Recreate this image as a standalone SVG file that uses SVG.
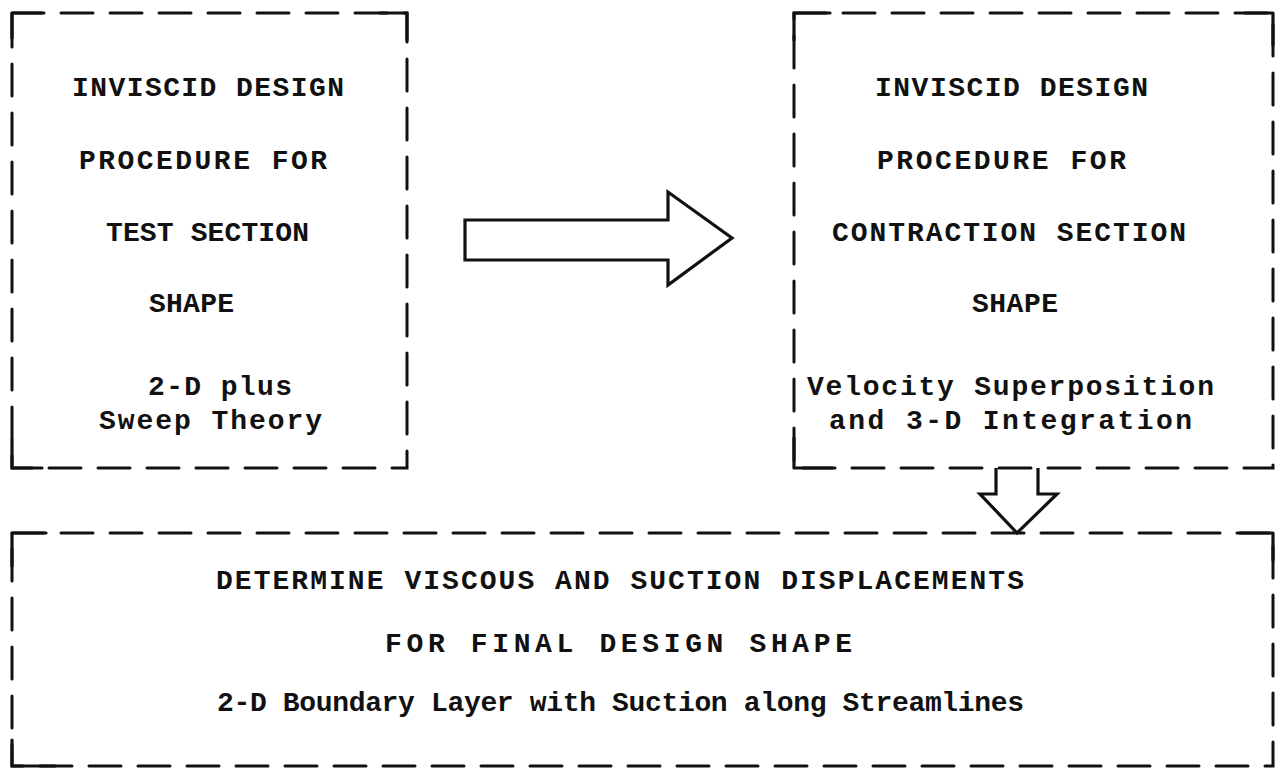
<svg xmlns="http://www.w3.org/2000/svg" width="1280" height="769" viewBox="0 0 1280 769">
<style>
.dash{fill:none;stroke:#111;stroke-width:3;stroke-dasharray:32 17;stroke-linecap:round}
.solid{fill:none;stroke:#111;stroke-width:3.2;stroke-linecap:round;stroke-linejoin:round}
.arrow{fill:none;stroke:#111;stroke-width:3.2;stroke-linejoin:miter}
text{font-family:"Liberation Mono","Courier New",monospace;font-size:28px;font-weight:bold;fill:#111}
</style>
<rect width="1280" height="769" fill="#fff"/>
<g id="box1">
  <rect class="dash" x="12" y="13" width="395" height="455"/>
  <path class="solid" d="M12 38 V13 H42 M380 13 H407 V40 M12 440 V468 H42"/>
  <text x="72" y="96" textLength="272" lengthAdjust="spacing">INVISCID  DESIGN</text>
  <text x="79" y="169" textLength="248" lengthAdjust="spacing">PROCEDURE  FOR</text>
  <text x="106" y="241" textLength="203" lengthAdjust="spacing">TEST SECTION</text>
  <text x="149" y="312" textLength="85" lengthAdjust="spacing">SHAPE</text>
  <text x="148" y="395" textLength="144" lengthAdjust="spacing">2-D  plus</text>
  <text x="99" y="429" textLength="223" lengthAdjust="spacing">Sweep  Theory</text>
</g>
<g id="box2">
  <rect class="dash" x="794" y="13" width="479" height="455"/>
  <path class="solid" d="M794 40 V13 H830 M1245 13 H1273 V45 M794 438 V468 H832"/>
  <text x="875" y="96" textLength="273" lengthAdjust="spacing">INVISCID  DESIGN</text>
  <text x="877" y="169" textLength="249" lengthAdjust="spacing">PROCEDURE  FOR</text>
  <text x="832" y="241" textLength="354" lengthAdjust="spacing">CONTRACTION  SECTION</text>
  <text x="972" y="312" textLength="86" lengthAdjust="spacing">SHAPE</text>
  <text x="807" y="395" textLength="407" lengthAdjust="spacing">Velocity Superposition</text>
  <text x="829" y="429" textLength="363" lengthAdjust="spacing">and 3-D Integration</text>
</g>
<g id="box3">
  <rect class="dash" x="12" y="533" width="1261" height="233"/>
  <path class="solid" d="M12 566 V533 H46 M1240 533 H1273 V560 M12 740 V766 H55"/>
  <text x="216" y="589" textLength="808" lengthAdjust="spacing">DETERMINE  VISCOUS  AND  SUCTION  DISPLACEMENTS</text>
  <text x="385" y="652" textLength="467" lengthAdjust="spacing">FOR  FINAL  DESIGN  SHAPE</text>
  <text x="217" y="711" textLength="807" lengthAdjust="spacing">2-D Boundary Layer with Suction along Streamlines</text>
</g>
<g id="connectors">
  <path class="arrow" fill="#fff" d="M465 220 H668 V192 L732 238 L668 285 V260 H465 Z"/>
  <path class="arrow" d="M996 468 V494 H980 L1017 533 L1057 494 H1038 V468"/>
</g>
</svg>
